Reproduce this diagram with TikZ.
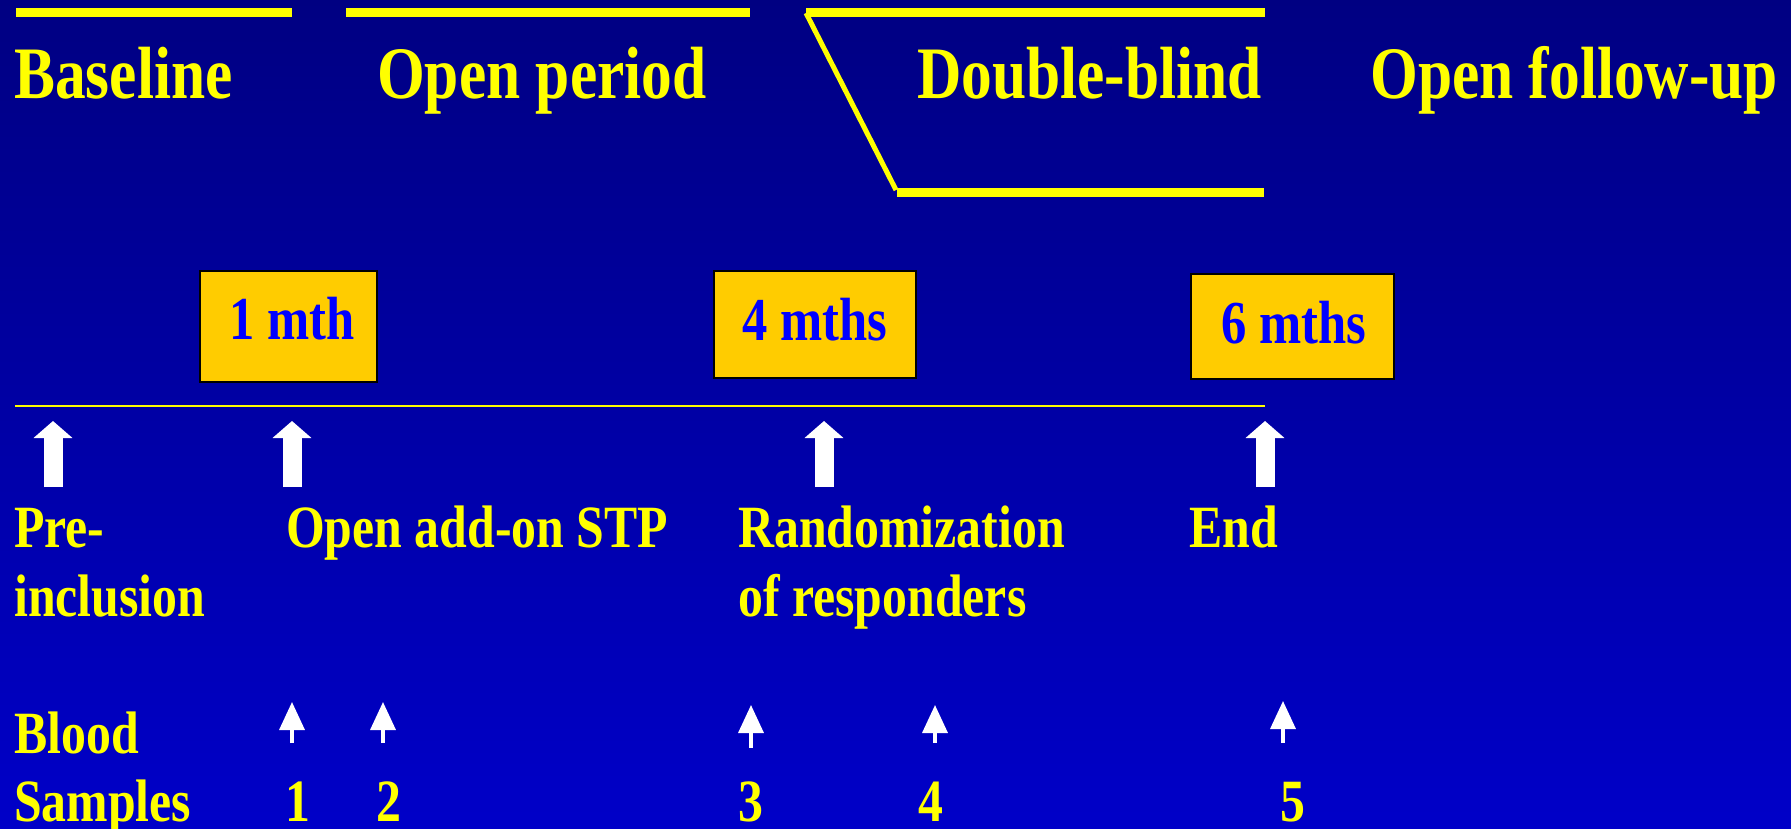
\documentclass[tikz,border=0pt]{standalone}
\usepackage{fontspec}
\usetikzlibrary{arrows.meta}
\newfontfamily\tf{Liberation Serif}[UprightFont={* Bold}, FakeStretch=0.83]
\definecolor{bgtop}{RGB}{0,0,130}
\definecolor{bgbot}{RGB}{0,0,200}
\definecolor{ylw}{RGB}{255,255,0}
\definecolor{gold}{RGB}{255,204,0}
\definecolor{txtblue}{RGB}{0,0,255}
\tikzset{
  head/.style={anchor=base west, inner sep=0pt, text=ylw, font=\tf\fontsize{74}{74}\selectfont},
  lbl/.style={anchor=base west, inner sep=0pt, text=ylw, font=\tf\fontsize{60}{60}\selectfont},
  num/.style={anchor=base, inner sep=0pt, text=ylw, font=\tf\fontsize{60}{60}\selectfont},
  box/.style={draw=black, line width=2pt, fill=gold, inner sep=0pt},
  boxtxt/.style={anchor=base west, inner sep=0pt, text=txtblue, font=\tf\fontsize{61}{61}\selectfont},
  bar/.style={draw=ylw, line width=9pt},
  slant/.style={draw=ylw, line width=5pt},
  bigarrow/.style={draw=white, line width=19pt, -{Triangle[width=38pt,length=17pt]}},
  smallarrow/.style={draw=white, line width=3.5pt, -{Triangle[width=25pt,length=28pt]}}
}
\begin{document}
\begin{tikzpicture}[x=1pt,y=-1pt]
\shade[top color=bgtop, bottom color=bgbot] (0,0) rectangle (1791,829);
\useasboundingbox (0,0) rectangle (1791,829);

% top period bars
\coordinate (a1) at (16,13);  \coordinate (a2) at (292,13);
\coordinate (b1) at (346,13); \coordinate (b2) at (750,13);
\coordinate (c1) at (806,13); \coordinate (c2) at (1265,13);
\coordinate (c3) at (896,190); \coordinate (d1) at (897,192.5); \coordinate (d2) at (1264,192.5);
\draw[bar] (a1) -- (a2);
\draw[bar] (b1) -- (b2);
\draw[bar] (c1) -- (c2);
\draw[slant] (c1) -- (c3);
\draw[bar] (d1) -- (d2);

% headers
\node[head] (hBase) at (14,99) {Baseline};
\node[head] (hOpen) at (377,99) {Open period};
\node[head] (hDB) at (917,99) {Double-blind};
\node[head] (hFU) at (1370,99) {Open follow-up};

% boxes
\node[box, minimum width=177pt, minimum height=111pt] (m1) at (288.5,326.5) {};
\node[boxtxt] (m1t) at (229,339) {1 mth};
\node[box, minimum width=202pt, minimum height=107pt] (m4) at (815,324.5) {};
\node[boxtxt] (m4t) at (742,340) {4 mths};
\node[box, minimum width=203pt, minimum height=105pt] (m6) at (1292.5,326.5) {};
\node[boxtxt] (m6t) at (1221,343) {6 mths};

% timeline
\coordinate (t0) at (15,406); \coordinate (t1) at (1265,406);
\draw[draw=ylw, line width=2pt] (t0) -- (t1);

% big arrows
\foreach \x [count=\i] in {53,292,824,1265}{
  \coordinate (ba\i) at (\x,487); \coordinate (bt\i) at (\x,421);
  \draw[bigarrow] (ba\i) -- (bt\i);
}

% event labels
\node[lbl] (pre) at (14,547) {Pre-};
\node[lbl] (incl) at (14,616) {inclusion};
\node[lbl] (oao) at (286,547) {Open add-on STP};
\node[lbl] (rnd) at (738,547) {Randomization};
\node[lbl] (resp) at (738,616) {of responders};
\node[lbl] (endl) at (1189,547) {End};

% small arrows
\coordinate (sa1) at (292,743); \coordinate (st1) at (292,702);
\coordinate (sa2) at (383,743); \coordinate (st2) at (383,702);
\coordinate (sa3) at (751,748); \coordinate (st3) at (751,705);
\coordinate (sa4) at (935,743); \coordinate (st4) at (935,705);
\coordinate (sa5) at (1283,743); \coordinate (st5) at (1283,701);
\foreach \i in {1,...,5}{\draw[smallarrow] (sa\i) -- (st\i);}

% blood samples
\node[lbl] (blood) at (14,753) {Blood};
\node[lbl] (samp) at (14,821) {Samples};
\node[num] (n1) at (298,821) {1};
\node[num] (n2) at (389,821) {2};
\node[num] (n3) at (751,821) {3};
\node[num] (n4) at (931,821) {4};
\node[num] (n5) at (1293,821) {5};
\end{tikzpicture}
\end{document}
